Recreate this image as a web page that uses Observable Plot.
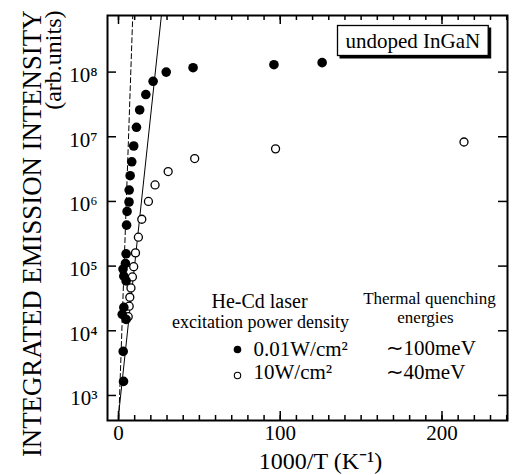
<!DOCTYPE html>
<html><head><meta charset="utf-8">
<script src="https://cdn.jsdelivr.net/npm/d3@7"></script>
<script src="https://cdn.jsdelivr.net/npm/@observablehq/plot@0.6"></script>
<style>
body{margin:0;background:#fff}
svg text{font-family:"Liberation Serif","Times New Roman",serif !important}
</style>
</head><body><div id="chart"></div>
<script>
// 0.01 W/cm^2 (filled circles)
const lowX = [125.9, 96.1, 46.1, 29.5, 21.4, 16.9, 13.1, 11.1, 9.4, 8.2, 7.2, 6.6, 6.5, 5.3, 5.0, 4.7, 4.3, 2.8, 3.3, 4.7, 3.3, 2.3, 4.7, 2.9, 3.1];
const lowY = [1.4e8, 1.3e8, 1.17e8, 1.0e8, 7.2e7, 4.5e7, 2.6e7, 1.4e7, 7.2e6, 4.1e6, 2.5e6, 1.5e6, 9.8e5, 7.0e5, 4.3e5, 1.55e5, 1.1e5, 9.0e4, 7.0e4, 5.9e4, 2.3e4, 1.8e4, 1.5e4, 4.8e3, 1.65e3];
// 10 W/cm^2 (open circles)
const highX = [213.6, 97.1, 47.1, 30.7, 22.6, 18.5, 14.4, 12.3, 10.5, 9.4, 8.6, 7.7, 7.0, 6.6, 6.0];
const highY = [8.3e6, 6.5e6, 4.6e6, 2.9e6, 1.8e6, 1.0e6, 5.3e5, 2.8e5, 1.6e5, 9.8e4, 6.8e4, 4.6e4, 3.3e4, 2.4e4, 1.65e4];
// fitted Arrhenius lines
const steepX = [0.2, 8.8];
const steepY = [440, 7.4e8];
const shallowX = [0, 26.5];
const shallowY = [490, 7.4e8];
// ticks
const xMajor = [0, 100, 200];
const xMinor = [0,10,20,30,40,50,60,70,80,90,100,110,120,130,140,150,160,170,180,190,200,210,220,230,240];
const yTicks = [1e3, 1e4, 1e5, 1e6, 1e7, 1e8];
const sup = {"0":"⁰","1":"¹","2":"²","3":"³","4":"⁴","5":"⁵","6":"⁶","7":"⁷","8":"⁸","9":"⁹","-":"⁻"};
const fmtY = d => "10" + String(Math.round(Math.log10(d))).split("").map(c => sup[c]).join("");

const low = lowX.map((x, i) => ({x, y: lowY[i]}));
const high = highX.map((x, i) => ({x, y: highY[i]}));
const steep = steepX.map((x, i) => ({x, y: steepY[i]}));
const shallow = shallowX.map((x, i) => ({x, y: shallowY[i]}));

const W = 513, H = 475, ML = 107, MR = 6, MT = 15, MB = 55;
const FW = W - ML - MR, FH = H - MT - MB;
const FONT = "Liberation Serif";

const lbl = (t, o) => Plot.text([t], {text: d => d, frameAnchor: "top-left", fill: "black", fontFamily: FONT, ...o});

const chart = Plot.plot({
  width: W, height: H,
  marginLeft: ML, marginRight: MR, marginTop: MT, marginBottom: MB,
  x: {domain: [-6.8, 240.5], axis: null, label: null},
  y: {type: "log", domain: [410, 7.5e8], axis: null, label: null},
  marks: [
    // inward ticks
    Plot.ruleX(xMinor, {x: d => d, insetTop: FH - 5, stroke: "black", strokeWidth: 1.5}),
    Plot.ruleX(xMajor, {x: d => d, insetTop: FH - 9, stroke: "black", strokeWidth: 1.5}),
    Plot.ruleX(xMinor, {x: d => d, insetBottom: FH - 5, stroke: "black", strokeWidth: 1.5}),
    Plot.ruleX(xMajor, {x: d => d, insetBottom: FH - 9, stroke: "black", strokeWidth: 1.5}),
    Plot.ruleY(yTicks, {y: d => d, insetRight: FW - 9, stroke: "black", strokeWidth: 1.5}),
    Plot.ruleY(yTicks, {y: d => d, insetLeft: FW - 9, stroke: "black", strokeWidth: 1.5}),
    Plot.frame({stroke: "black", strokeWidth: 2}),
    // tick labels
    Plot.text(xMajor, {x: d => d, text: d => String(d), frameAnchor: "bottom", lineAnchor: "top", dy: 5, fontSize: 21, fontFamily: FONT, fill: "black"}),
    Plot.text(yTicks, {y: d => d, text: fmtY, frameAnchor: "left", textAnchor: "end", dx: -10, dy: 3, fontSize: 21, fontFamily: FONT, fill: "black"}),
    // fit lines
    Plot.line(steep, {x: "x", y: "y", stroke: "black", strokeWidth: 1, strokeDasharray: "5,3"}),
    Plot.line(shallow, {x: "x", y: "y", stroke: "black", strokeWidth: 1}),
    // data
    Plot.dot(high, {x: "x", y: "y", r: 4, fill: "white", stroke: "black", strokeWidth: 1.3}),
    Plot.dot(low, {x: "x", y: "y", r: 4.8, fill: "black", stroke: "none"}),
    // axis titles
    lbl("INTEGRATED EMISSION INTENSITY", {rotate: -90, textAnchor: "end", lineAnchor: "middle", dx: -75, dy: -5, fontSize: 26.8}),
    lbl("(arb.units)", {rotate: -90, textAnchor: "end", lineAnchor: "middle", dx: -54, dy: -5, fontSize: 24}),
    Plot.text(["1000/T (K⁻¹)"], {text: d => d, frameAnchor: "bottom", dx: 13, dy: 48, lineAnchor: "bottom", fontSize: 24, fontFamily: FONT, fill: "black"}),
    // sample label
    lbl("undoped InGaN", {dx: 238, dy: 32, textAnchor: "start", lineAnchor: "bottom", fontSize: 21}),
    // legend
    lbl("He-Cd laser", {dx: 152, dy: 292, textAnchor: "middle", lineAnchor: "bottom", fontSize: 20}),
    lbl("excitation power density", {dx: 153, dy: 312, textAnchor: "middle", lineAnchor: "bottom", fontSize: 18}),
    lbl("Thermal quenching", {dx: 322, dy: 288, textAnchor: "middle", lineAnchor: "bottom", fontSize: 17}),
    lbl("energies", {dx: 318, dy: 307, textAnchor: "middle", lineAnchor: "bottom", fontSize: 17}),
    Plot.dot([0], {frameAnchor: "top-left", dx: 130, dy: 334, r: 3.8, fill: "black"}),
    Plot.dot([0], {frameAnchor: "top-left", dx: 130, dy: 360, r: 3.2, fill: "white", stroke: "black", strokeWidth: 1.1}),
    lbl("0.01W/cm²", {dx: 146, dy: 340, textAnchor: "start", lineAnchor: "bottom", fontSize: 21}),
    lbl("10W/cm²", {dx: 146, dy: 363, textAnchor: "start", lineAnchor: "bottom", fontSize: 21}),
    lbl("∼100meV", {dx: 278, dy: 339, textAnchor: "start", lineAnchor: "bottom", fontSize: 21}),
    lbl("∼40meV", {dx: 278, dy: 363, textAnchor: "start", lineAnchor: "bottom", fontSize: 21})
  ]
});
document.getElementById("chart").append(chart);

// box with drop shadow around the sample label
const t = Array.from(chart.querySelectorAll("text")).find(e => e.textContent === "undoped InGaN");
if (t) {
  const b = t.getBBox();
  const ns = "http://www.w3.org/2000/svg";
  const g = t.parentNode;
  const mk = (off, fill, sw) => {
    const r = document.createElementNS(ns, "rect");
    r.setAttribute("x", b.x - 8 + off);
    r.setAttribute("y", b.y - 3 + off);
    r.setAttribute("width", b.width + 16);
    r.setAttribute("height", b.height + 6);
    r.setAttribute("fill", fill);
    r.setAttribute("stroke", "black");
    r.setAttribute("stroke-width", sw);
    if (t.getAttribute("transform")) r.setAttribute("transform", t.getAttribute("transform"));
    g.insertBefore(r, t);
  };
  mk(2.5, "black", 1);
  mk(0, "white", 1.3);
}
</script>
</body></html>
